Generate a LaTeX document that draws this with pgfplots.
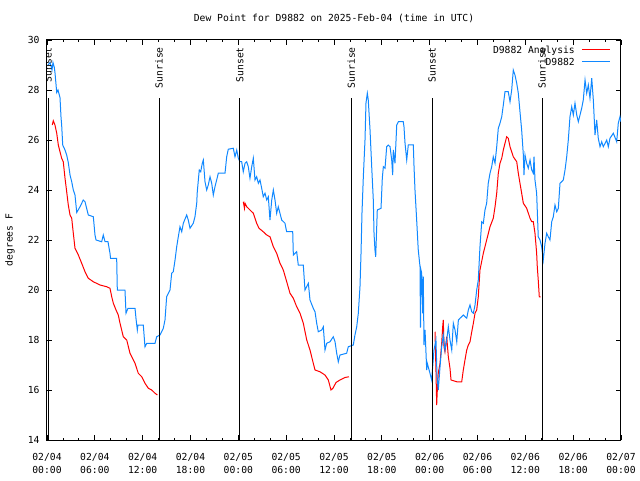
\documentclass[border=0pt]{standalone}
\usepackage{pgfplots}
\pgfplotsset{compat=1.18}
\usepackage{fontspec}
\setmainfont{DejaVu Sans Mono}
\definecolor{gpblue}{RGB}{16,136,255}
\definecolor{gpred}{RGB}{255,0,0}
\begin{document}
\begin{tikzpicture}[font=\fontsize{9.7}{12}\selectfont]
\useasboundingbox (0,0) rectangle (640pt,480pt);
\begin{axis}[
  at={(47pt,40pt)}, anchor=south west,
  scale only axis, width=574pt, height=400pt,
  xmin=0, xmax=72, ymin=14, ymax=30,
  enlargelimits=false,
  /pgf/number format/assume math mode=true,
  axis line style={line width=1pt, black},
  tick align=inside,
  major tick length=5pt, minor tick length=2.5pt,
  tick style={black, line width=0.8pt},
  xtick={0,6,...,72},
  minor xtick={0,2,...,72},
  xticklabels={{02/04\\00:00},{02/04\\06:00},{02/04\\12:00},{02/04\\18:00},{02/05\\00:00},{02/05\\06:00},{02/05\\12:00},{02/05\\18:00},{02/06\\00:00},{02/06\\06:00},{02/06\\12:00},{02/06\\18:00},{02/07\\00:00}},
  xticklabel style={align=center, yshift=-10pt, font=\fontsize{9.7}{12.5}\selectfont},
  ytick={14,16,...,30},
  yticklabel style={xshift=-4pt},
  ylabel={degrees F},
  ylabel style={at={(axis description cs:-0.0645,0.5)}, anchor=center},
  title={Dew Point for D9882 on 2025-Feb-04 (time in UTC)},
  title style={at={(axis description cs:0.5,1)}, anchor=center, yshift=16pt},
]
% D9882 Analysis, segment 1
\addplot[color=gpred, line width=1pt] coordinates {
(0.66,26.6)(0.79,26.77)(1.0,26.6)(1.22,26.27)(1.42,25.8)(1.63,25.53)(1.84,25.27)(2.04,25.13)(2.26,24.47)(2.47,23.93)(2.67,23.4)(2.89,23.0)(3.10,22.87)(3.30,22.27)(3.51,21.67)(3.93,21.4)(4.35,21.07)(4.77,20.73)(5.18,20.47)(5.81,20.33)(6.65,20.2)(7.49,20.13)(7.90,20.07)(8.12,19.73)(8.32,19.47)(8.66,19.2)(8.94,19.0)(9.16,18.67)(9.57,18.13)(10.0,18.0)(10.41,17.47)(11.04,17.07)(11.45,16.67)(11.88,16.53)(12.29,16.27)(12.71,16.07)(13.13,16.0)(13.55,15.87)(13.84,15.8)
};
% segment 2
\addplot[color=gpred, line width=1pt] coordinates {
(24.62,23.53)(24.77,23.27)(24.84,23.47)(25.05,23.33)(25.46,23.2)(25.88,23.07)(26.09,22.87)(26.30,22.67)(26.59,22.47)(27.13,22.33)(27.56,22.2)(27.97,22.13)(28.39,21.73)(28.81,21.47)(29.23,21.07)(29.64,20.8)(30.07,20.33)(30.48,19.87)(30.90,19.67)(31.32,19.33)(31.74,19.07)(32.15,18.67)(32.58,18.0)(32.99,17.6)(33.40,17.07)(33.62,16.8)(34.24,16.73)(34.87,16.6)(35.29,16.4)(35.62,16.0)(35.87,16.07)(36.25,16.3)(36.75,16.4)(37.38,16.5)(37.88,16.53)
};
% segment 3
\addplot[color=gpred, line width=1pt] coordinates {
(48.67,18.33)(48.79,16.8)(48.88,15.4)(48.96,16.0)(49.08,16.67)(49.30,17.07)(49.51,17.87)(49.63,18.53)(49.71,18.8)(49.80,17.73)(49.92,17.53)(50.14,18.13)(50.34,17.33)(50.55,16.87)(50.68,16.4)(51.40,16.33)(52.02,16.33)(52.22,16.8)(52.43,17.2)(52.65,17.6)(52.85,17.8)(53.06,17.93)(53.28,18.33)(53.48,18.67)(53.69,19.07)(53.90,19.2)(54.10,19.73)(54.31,20.8)(54.73,21.47)(55.15,22.0)(55.57,22.53)(55.98,22.87)(56.20,23.33)(56.41,23.87)(56.61,24.67)(56.82,25.07)(57.04,25.27)(57.24,25.6)(57.45,25.87)(57.66,26.13)(57.86,26.07)(58.08,25.73)(58.49,25.33)(58.92,25.13)(59.12,24.67)(59.33,24.27)(59.54,23.87)(59.75,23.47)(60.17,23.27)(60.59,22.87)(60.80,22.73)(61.0,22.73)(61.21,22.27)(61.42,21.47)(61.50,20.93)(61.62,20.4)(61.75,19.73)(61.93,19.73)
};
% D9882 observations
\addplot[color=gpblue, line width=1pt] coordinates {
(0.13,29.0)(0.38,29.1)(0.63,28.8)(0.75,29.1)(0.92,28.9)(1.0,28.7)(1.22,27.9)(1.38,28.0)(1.63,27.7)(1.76,26.9)(1.84,26.6)(1.97,25.8)(2.26,25.6)(2.47,25.4)(2.67,25.1)(2.89,24.6)(3.10,24.33)(3.30,24.0)(3.51,23.8)(3.73,23.1)(4.14,23.33)(4.55,23.6)(4.77,23.53)(5.18,23.0)(5.81,22.93)(6.02,22.2)(6.15,22.0)(6.86,21.93)(7.06,22.2)(7.28,21.93)(7.65,21.93)(7.90,21.47)(7.97,21.27)(8.74,21.27)(8.82,20.0)(9.78,20.0)(9.91,19.07)(10.16,19.27)(11.04,19.27)(11.16,18.87)(11.33,18.4)(11.41,18.6)(12.08,18.6)(12.29,17.73)(12.51,17.87)(13.55,17.87)(13.76,18.13)(14.17,18.2)(14.59,18.47)(14.80,18.8)(15.01,19.73)(15.43,20.0)(15.64,20.67)(15.84,20.73)(16.06,21.2)(16.27,21.73)(16.47,22.13)(16.68,22.53)(16.90,22.33)(17.10,22.67)(17.52,23.0)(17.72,22.8)(17.94,22.47)(18.35,22.67)(18.56,22.93)(18.78,23.47)(18.85,23.93)(19.10,24.8)(19.28,24.73)(19.48,25.07)(19.61,25.2)(19.82,24.33)(20.03,24.0)(20.23,24.2)(20.45,24.53)(20.66,24.27)(20.86,23.8)(21.07,24.13)(21.49,24.67)(22.33,24.67)(22.54,25.33)(22.74,25.63)(23.37,25.67)(23.58,25.33)(23.80,25.6)(24.0,25.27)(24.21,25.13)(24.42,25.13)(24.62,24.73)(24.84,25.07)(25.05,25.13)(25.25,24.93)(25.46,24.47)(25.68,24.93)(25.88,25.27)(26.09,24.4)(26.30,24.53)(26.51,24.27)(26.72,24.4)(26.93,24.07)(27.13,23.73)(27.35,23.87)(27.56,23.6)(27.76,23.73)(27.97,22.8)(28.19,23.6)(28.39,24.0)(28.60,23.6)(28.81,23.07)(29.01,23.33)(29.44,22.8)(29.85,22.67)(30.06,22.33)(30.82,22.33)(30.90,21.4)(31.32,21.53)(31.52,21.0)(32.15,21.0)(32.36,20.0)(32.78,20.27)(32.99,19.6)(33.40,19.27)(33.62,19.13)(33.83,18.67)(34.03,18.33)(34.46,18.4)(34.66,18.53)(34.87,17.6)(35.09,17.87)(35.50,17.93)(35.91,18.13)(36.13,17.93)(36.34,17.47)(36.54,17.13)(36.75,17.4)(37.59,17.47)(37.79,17.73)(38.42,17.8)(38.63,18.2)(38.85,18.53)(39.05,19.07)(39.26,20.13)(39.39,21.47)(39.51,23.07)(39.68,24.53)(39.89,26.0)(40.01,27.47)(40.18,27.87)(40.30,27.6)(40.52,26.4)(40.73,24.93)(40.93,23.6)(41.02,22.27)(41.14,21.6)(41.23,21.33)(41.36,22.53)(41.43,23.2)(41.90,23.27)(42.06,24.47)(42.19,24.93)(42.40,24.87)(42.61,25.73)(42.81,25.8)(43.03,25.73)(43.24,25.2)(43.36,24.6)(43.44,25.6)(43.65,25.07)(43.87,26.6)(44.07,26.73)(44.69,26.73)(44.78,26.53)(44.91,25.87)(45.12,25.2)(45.32,25.8)(45.95,25.8)(46.04,24.93)(46.16,24.0)(46.37,22.8)(46.57,21.6)(46.79,20.93)(46.85,18.5)(46.91,20.8)(47.0,20.67)(47.13,19.07)(47.20,20.53)(47.29,17.8)(47.42,18.4)(47.63,16.8)(47.70,17.07)(48.04,16.67)(48.25,16.4)(48.54,17.6)(48.79,18.0)(48.92,16.6)(49.08,16.0)(49.30,16.93)(49.51,17.73)(49.71,18.2)(49.92,17.6)(50.14,18.0)(50.34,18.53)(50.55,18.0)(50.77,17.6)(50.97,18.67)(51.18,18.4)(51.40,17.93)(51.60,18.8)(51.81,18.87)(52.22,19.0)(52.65,18.87)(52.85,19.2)(53.06,19.4)(53.28,19.13)(53.48,19.07)(53.69,19.4)(53.90,20.0)(54.10,20.4)(54.31,21.73)(54.53,22.73)(54.73,22.67)(54.94,23.2)(55.15,23.47)(55.35,24.27)(55.57,24.67)(55.78,24.93)(55.98,25.33)(56.20,25.07)(56.41,25.73)(56.61,26.47)(56.82,26.67)(57.04,26.93)(57.24,27.4)(57.45,27.93)(57.86,27.93)(58.08,27.53)(58.29,28.0)(58.49,28.8)(58.70,28.6)(58.92,28.27)(59.12,27.87)(59.33,27.13)(59.54,26.4)(59.75,25.4)(59.83,24.6)(59.96,25.4)(60.17,25.07)(60.37,24.87)(60.59,25.2)(60.80,24.8)(61.0,24.67)(61.09,25.33)(61.21,24.4)(61.42,23.87)(61.62,22.13)(61.84,22.0)(62.05,21.73)(62.25,21.2)(62.47,21.87)(62.68,22.27)(62.88,22.13)(63.09,22.0)(63.31,22.73)(63.51,22.93)(63.72,23.4)(63.94,23.13)(64.14,23.27)(64.35,24.27)(64.56,24.33)(64.76,24.4)(64.98,24.8)(65.19,25.33)(65.39,26.0)(65.60,26.93)(65.82,27.33)(66.02,27.0)(66.23,27.47)(66.45,27.0)(66.65,26.73)(66.86,27.0)(67.07,27.27)(67.27,27.6)(67.49,28.4)(67.70,27.87)(67.90,28.2)(68.11,27.67)(68.33,28.47)(68.53,27.6)(68.74,26.2)(68.95,26.8)(69.15,26.07)(69.37,25.73)(69.58,25.93)(69.78,25.73)(70.21,26.0)(70.41,25.73)(70.62,26.07)(71.04,26.27)(71.46,25.93)(71.66,26.67)(71.87,26.93)(72.0,26.73)
};
% sunrise / sunset markers
\addplot[black, line width=1pt] coordinates {(0.15,14) (0.15,27.68)};
\addplot[black, line width=1pt] coordinates {(14.05,14) (14.05,27.68)};
\addplot[black, line width=1pt] coordinates {(24.2,14) (24.2,27.68)};
\addplot[black, line width=1pt] coordinates {(38.15,14) (38.15,27.68)};
\addplot[black, line width=1pt] coordinates {(48.3,14) (48.3,27.68)};
\addplot[black, line width=1pt] coordinates {(62.1,14) (62.1,27.68)};
\node[rotate=90, anchor=east, inner sep=0pt] at (axis cs:0.15,29.72) {Sunset};
\node[rotate=90, anchor=east, inner sep=0pt] at (axis cs:14.05,29.72) {Sunrise};
\node[rotate=90, anchor=east, inner sep=0pt] at (axis cs:24.2,29.72) {Sunset};
\node[rotate=90, anchor=east, inner sep=0pt] at (axis cs:38.15,29.72) {Sunrise};
\node[rotate=90, anchor=east, inner sep=0pt] at (axis cs:48.3,29.72) {Sunset};
\node[rotate=90, anchor=east, inner sep=0pt] at (axis cs:62.1,29.72) {Sunrise};
\coordinate (lg) at (rel axis cs:1,1);
\end{axis}
% legend
\node[anchor=base east, inner sep=0pt] at ([xshift=-46pt,yshift=-13.5pt]lg) {D9882 Analysis};
\node[anchor=base east, inner sep=0pt] at ([xshift=-46pt,yshift=-25.5pt]lg) {D9882};
\draw[gpred, line width=1pt] ([xshift=-39pt,yshift=-10pt]lg) -- ([xshift=-11pt,yshift=-10pt]lg);
\draw[gpblue, line width=1pt] ([xshift=-39pt,yshift=-22pt]lg) -- ([xshift=-11pt,yshift=-22pt]lg);
\end{tikzpicture}
\end{document}
